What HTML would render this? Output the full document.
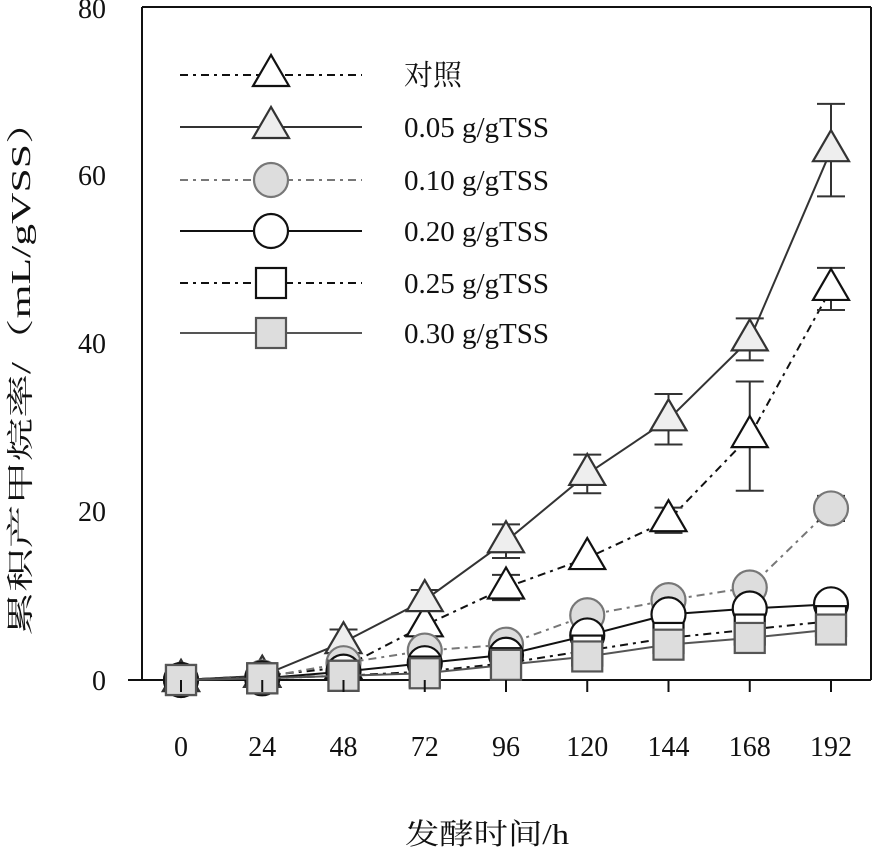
<!DOCTYPE html>
<html><head><meta charset="utf-8"><style>body{margin:0;background:#fff}svg{display:block}text{font-family:"Liberation Serif","Noto Serif CJK SC",serif;fill:#111}</style></head>
<body>
<svg id="s" width="873" height="850" xmlns="http://www.w3.org/2000/svg">
<line x1="142" y1="7" x2="871" y2="7" stroke="#111" stroke-width="2"/>
<line x1="871" y1="7" x2="871" y2="680" stroke="#111" stroke-width="2"/>
<line x1="142" y1="7" x2="142" y2="680" stroke="#111" stroke-width="2"/>
<line x1="128" y1="680" x2="871" y2="680" stroke="#111" stroke-width="2"/>
<g font-size="28" text-anchor="end">
<text x="106" y="690">0</text><text x="106" y="521">20</text><text x="106" y="353">40</text><text x="106" y="185">60</text><text x="106" y="18">80</text>
</g>
<g id="xt" font-size="28" text-anchor="middle"></g>
<text x="487" y="844" font-size="29" text-anchor="middle" textLength="164" lengthAdjust="spacingAndGlyphs">发酵时间/h</text>
<text transform="translate(30,368) rotate(-90)" font-size="27" text-anchor="middle" textLength="535" lengthAdjust="spacingAndGlyphs">累积产甲烷率/（mL/gVSS）</text>
<g id="d"></g>
<g id="lg" font-size="29"></g>
</svg>
<script>
const NS="http://www.w3.org/2000/svg";
const X=t=>181+t*81.25/24, Y=v=>680-v*8.41;
function el(p,tag,a,txt){const e=document.createElementNS(NS,tag);for(const k in a)e.setAttribute(k,a[k]);if(txt!=null)e.textContent=txt;p.appendChild(e);return e;}
const xt=document.getElementById('xt');
[0,24,48,72,96,120,144,168,192].forEach(t=>{el(xt,'text',{x:X(t),y:756},t);el(document.getElementById('s'),'line',{x1:X(t),y1:680,x2:X(t),y2:692,stroke:'#111','stroke-width':2});});
const S=[
 {n:'对照',m:'tr',f:'#fff',s:'#111',dash:'8,5,3,5',lc:'#111',v:[0,0.5,1.5,6.5,11,14.5,19,29,46.5],e:{4:1.5,6:1.5,7:6.5,8:2.5}},
 {n:'0.05 g/gTSS',m:'tr',f:'#eee',s:'#333',dash:'',lc:'#333',v:[0,0.5,4.5,9.5,16.5,24.5,31,40.5,63],e:{2:1.5,3:1.2,4:2,5:2.3,6:3,7:2.5,8:5.5}},
 {n:'0.10 g/gTSS',m:'ci',f:'#ddd',s:'#777',dash:'8,5,3,5',lc:'#777',v:[0,0.3,2,3.5,4.2,7.7,9.5,11,20.4],e:{8:1.5}},
 {n:'0.20 g/gTSS',m:'ci',f:'#fff',s:'#111',dash:'',lc:'#111',v:[0,0.2,1,2,3,5.3,7.8,8.5,9],e:{}},
 {n:'0.25 g/gTSS',m:'sq',f:'#fff',s:'#111',dash:'8,5,3,5',lc:'#111',v:[0,0.2,0.5,1,2,3.5,5,6,7],e:{}},
 {n:'0.30 g/gTSS',m:'sq',f:'#ddd',s:'#555',dash:'',lc:'#555',v:[0,0.2,0.5,0.8,1.8,2.8,4.2,5,6],e:{}},
];
const d=document.getElementById('d');
function mk(p,s,x,y){
 const a={fill:s.f,stroke:s.s,'stroke-width':2.2};
 if(s.m=='sq')el(p,'rect',Object.assign({x:x-15,y:y-15,width:30,height:30},a));
 else if(s.m=='ci')el(p,'circle',Object.assign({cx:x,cy:y,r:17},a));
 else el(p,'polygon',Object.assign({points:`${x},${y-20} ${x-18},${y+11} ${x+18},${y+11}`},a));
}
S.forEach(s=>{
 const pts=s.v.map((v,i)=>X(i*24)+','+Y(v)).join(' ');
 el(d,'polyline',{points:pts,fill:'none',stroke:s.lc,'stroke-width':2,'stroke-dasharray':s.dash});
 for(const i in s.e){const x=X(i*24),v=s.v[i],e=s.e[i];
  el(d,'path',{d:`M${x},${Y(v+e)}V${Y(v-e)}M${x-14},${Y(v+e)}h28M${x-14},${Y(v-e)}h28`,stroke:'#333','stroke-width':2,fill:'none'});}
 s.v.forEach((v,i)=>mk(d,s,X(i*24),Y(v)));
});
const lg=document.getElementById('lg');
const ys=[75,127,180,231,283,333];
S.forEach((s,j)=>{const y=ys[j];
 el(lg,'line',{x1:180,y1:y,x2:362,y2:y,stroke:s.lc,'stroke-width':2,'stroke-dasharray':s.dash});
 mk(lg,s,271,y);
 el(lg,'text',{x:404,y:y+10},s.n);
});
</script>
</body></html>
